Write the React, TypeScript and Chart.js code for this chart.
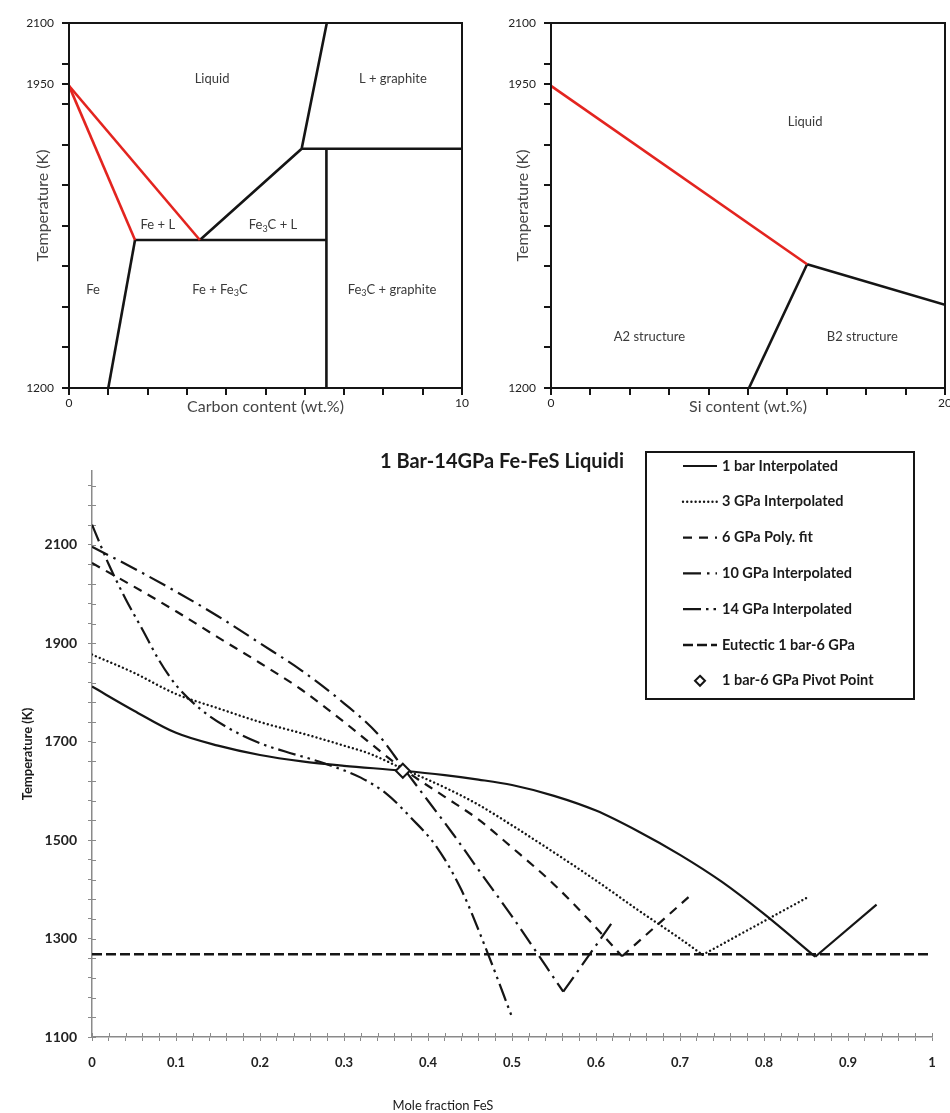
import React, { useEffect, useRef } from 'react';
import { Chart, registerables } from 'chart.js';

Chart.register(...registerables);

const W = 950;
const H = 1113;
const FONT = 'Lato, "Open Sans", "DejaVu Sans", sans-serif';
const RED = '#e3241f';
const INK = '#151515';

type Pt = { x: number; y: number };
const pts = (xs: number[], ys: number[]): Pt[] => xs.map((x, i) => ({ x, y: ys[i] }));

// ---------------- Panel A : Fe–C ----------------
const feC_tempTicks = [1200, 1300, 1400, 1500, 1600, 1700, 1800, 1900, 1950, 2000, 2100];
const feC_tempLabelled = [1200, 1950, 2100];
const feC_carbonTicks = [0, 1, 2, 3, 4, 5, 6, 7, 8, 9, 10];
const feC_carbonLabelled = [0, 10];

const feC_liquidusFeX = [0, 3.33];
const feC_liquidusFeT = [1945, 1565];
const feC_solidusFeX = [0, 1.68];
const feC_solidusFeT = [1945, 1565];
const feC_eutecticX = [1.68, 6.55];
const feC_eutecticT = [1565, 1565];
const feC_fe3cLiquidusX = [3.33, 5.92, 6.56];
const feC_fe3cLiquidusT = [1565, 1790, 2100];
const feC_graphiteX = [5.92, 10];
const feC_graphiteT = [1790, 1790];
const feC_fe3cLimitX = [6.55, 6.55];
const feC_fe3cLimitT = [1790, 1200];
const feC_solvusX = [1.0, 1.68];
const feC_solvusT = [1200, 1565];

const feC_regionNames = ['Liquid', 'L + graphite', 'Fe + L', 'Fe_3C + L', 'Fe', 'Fe + Fe_3C', 'Fe_3C + graphite'];
const feC_regionX = [3.64, 8.24, 2.26, 5.19, 0.61, 3.84, 8.22];
const feC_regionT = [1962, 1962, 1602, 1602, 1442, 1442, 1442];

// ---------------- Panel B : Fe–Si ----------------
const feSi_tempTicks = feC_tempTicks;
const feSi_tempLabelled = feC_tempLabelled;
const feSi_siTicks = [0, 2, 4, 6, 8, 10, 12, 14, 16, 18, 20];
const feSi_siLabelled = [0, 20];

const feSi_liquidusX = [0, 13];
const feSi_liquidusT = [1945, 1505];
const feSi_b2LiquidusX = [13, 20];
const feSi_b2LiquidusT = [1505, 1405];
const feSi_a2b2X = [13, 10.05];
const feSi_a2b2T = [1505, 1200];

const feSi_regionNames = ['Liquid', 'A2 structure', 'B2 structure'];
const feSi_regionX = [12.9, 5.0, 15.8];
const feSi_regionT = [1856, 1326, 1326];

// ---------------- Panel C : Fe–FeS liquidi ----------------
const fes_fracLabelled = [0, 0.1, 0.2, 0.3, 0.4, 0.5, 0.6, 0.7, 0.8, 0.9, 1];
const fes_fracMinorStep = 0.02;
const fes_tempLabelled = [1100, 1300, 1500, 1700, 1900, 2100];
const fes_tempMinorStep = 40;
const fes_tempMin = 1100;
const fes_tempMax = 2250;

const oneBarX = [0, 0.05, 0.1, 0.15, 0.2, 0.25, 0.3, 0.37, 0.42, 0.46, 0.5, 0.55, 0.6, 0.65, 0.7, 0.75, 0.8, 0.861];
const oneBarT = [1812, 1763, 1718, 1692, 1673, 1660, 1651, 1641, 1632, 1623, 1612, 1590, 1560, 1518, 1470, 1415, 1350, 1263];
const oneBarRiseX = [0.861, 0.934];
const oneBarRiseT = [1263, 1369];

const gpa3X = [0, 0.05, 0.1, 0.15, 0.2, 0.25, 0.3, 0.33, 0.37, 0.42, 0.46, 0.5, 0.55, 0.6, 0.65, 0.7, 0.727];
const gpa3T = [1877, 1840, 1797, 1768, 1740, 1717, 1692, 1676, 1645, 1607, 1572, 1530, 1475, 1418, 1358, 1300, 1267];
const gpa3RiseX = [0.727, 0.851];
const gpa3RiseT = [1267, 1383];

const gpa6X = [0, 0.05, 0.1, 0.15, 0.2, 0.25, 0.3, 0.37, 0.42, 0.46, 0.5, 0.55, 0.593, 0.631];
const gpa6T = [2063, 2015, 1965, 1912, 1860, 1805, 1740, 1645, 1588, 1542, 1485, 1410, 1335, 1264];
const gpa6RiseX = [0.631, 0.712];
const gpa6RiseT = [1264, 1387];

const gpa10X = [0, 0.05, 0.1, 0.15, 0.2, 0.25, 0.3, 0.34, 0.37, 0.4, 0.43, 0.46, 0.5, 0.561];
const gpa10T = [2096, 2052, 2005, 1955, 1900, 1844, 1778, 1716, 1648, 1580, 1512, 1440, 1345, 1192];
const gpa10RiseX = [0.561, 0.619];
const gpa10RiseT = [1192, 1332];

const gpa14X = [0, 0.01, 0.02, 0.04, 0.06, 0.08, 0.1, 0.13, 0.16, 0.2, 0.23, 0.26, 0.29, 0.32, 0.35, 0.38, 0.41, 0.44, 0.47, 0.501];
const gpa14T = [2141, 2100, 2060, 1990, 1928, 1865, 1815, 1765, 1730, 1697, 1680, 1665, 1648, 1627, 1595, 1545, 1487, 1398, 1275, 1136];

const eutecticX = [0, 1];
const eutecticT = [1268, 1268];
const pivotX = [0.37];
const pivotT = [1641];

const legendNames = [
  '1 bar Interpolated',
  '3 GPa Interpolated',
  '6 GPa Poly. fit',
  '10 GPa Interpolated',
  '14 GPa Interpolated',
  'Eutectic 1 bar-6 GPa',
  '1 bar-6 GPa Pivot Point',
];

// line styles
type LS = { dash: number[]; width: number; cap: CanvasLineCap };
const S1: LS = { dash: [], width: 2.2, cap: 'butt' };
const S3: LS = { dash: [0.01, 4.2], width: 2.4, cap: 'round' };
const S6: LS = { dash: [9, 7], width: 2.2, cap: 'butt' };
const S10: LS = { dash: [18, 6, 2.5, 6], width: 2.2, cap: 'butt' };
const S14: LS = { dash: [18, 5, 2.5, 5, 2.5, 5], width: 2.2, cap: 'butt' };
const SE: LS = { dash: [10, 4], width: 2.6, cap: 'butt' };

function drawRich(ctx: CanvasRenderingContext2D, text: string, x: number, y: number, size: number) {
  const parts = text
    .split(/(_\d)/)
    .filter(Boolean)
    .map((p) => (p.startsWith('_') ? { t: p.slice(1), sub: true } : { t: p, sub: false }));
  const mainF = `${size}px ${FONT}`;
  const subF = `${Math.round(size * 0.68)}px ${FONT}`;
  let total = 0;
  const widths = parts.map((p) => {
    ctx.font = p.sub ? subF : mainF;
    const w = ctx.measureText(p.t).width;
    total += w;
    return w;
  });
  let cx = x - total / 2;
  ctx.textAlign = 'left';
  ctx.textBaseline = 'middle';
  parts.forEach((p, i) => {
    ctx.font = p.sub ? subF : mainF;
    ctx.fillText(p.t, cx, p.sub ? y + size * 0.28 : y);
    cx += widths[i];
  });
}

type PhaseSpec = {
  lines: { data: Pt[]; color: string }[];
  xMin: number;
  xMax: number;
  xTicks: number[];
  xLabelled: number[];
  yTicks: number[];
  yLabelled: number[];
  padLeft: number;
  padRight: number;
  yWidth: number;
  regions: { names: string[]; xs: number[]; ts: number[] };
  xTitle: string;
  yTitleX: number;
};

function phaseConfig(s: PhaseSpec): any {
  return {
    type: 'scatter',
    data: {
      datasets: s.lines.map((l) => ({
        data: l.data,
        showLine: true,
        borderColor: l.color,
        borderWidth: 2.6,
        pointRadius: 0,
        tension: 0,
        fill: false,
      })),
    },
    options: {
      responsive: false,
      animation: false,
      devicePixelRatio: 1,
      events: [],
      layout: { padding: { left: s.padLeft, right: s.padRight, top: 23, bottom: H - 388 - 30 } },
      plugins: { legend: { display: false }, tooltip: { enabled: false } },
      scales: {
        x: {
          type: 'linear',
          min: s.xMin,
          max: s.xMax,
          afterBuildTicks: (sc: any) => {
            sc.ticks = s.xTicks.map((v) => ({ value: v }));
          },
          afterFit: (sc: any) => {
            sc.height = 30;
            sc.paddingLeft = 0;
            sc.paddingRight = 0;
          },
          ticks: {
            autoSkip: false,
            maxRotation: 0,
            padding: 1,
            color: '#222',
            font: { size: 12, family: FONT },
            callback: (v: number) => (s.xLabelled.includes(v) ? String(v) : ''),
          },
          grid: { display: true, drawOnChartArea: false, drawTicks: true, tickLength: 7, tickWidth: 2, tickColor: INK, lineWidth: 2 },
          border: { display: true, color: INK, width: 2 },
        },
        y: {
          type: 'linear',
          min: 1200,
          max: 2100,
          afterBuildTicks: (sc: any) => {
            sc.ticks = s.yTicks.slice().sort((a, b) => a - b).map((v) => ({ value: v }));
          },
          afterFit: (sc: any) => {
            sc.width = s.yWidth;
          },
          ticks: {
            autoSkip: false,
            padding: 8,
            color: '#222',
            font: { size: 12, family: FONT },
            callback: (v: number) => (s.yLabelled.includes(v) ? String(v) : ''),
          },
          grid: { display: true, drawOnChartArea: false, drawTicks: true, tickLength: 7, tickWidth: 2, tickColor: INK, lineWidth: 2 },
          border: { display: true, color: INK, width: 2 },
        },
      },
    },
    plugins: [
      {
        id: 'phaseOverlay',
        afterDraw(chart: any) {
          const { ctx, chartArea: a, scales } = chart;
          ctx.save();
          ctx.strokeStyle = INK;
          ctx.lineWidth = 2;
          ctx.strokeRect(a.left, a.top, a.right - a.left, a.bottom - a.top);
          ctx.fillStyle = '#3a3a3a';
          s.regions.names.forEach((n, i) => {
            drawRich(ctx, n, scales.x.getPixelForValue(s.regions.xs[i]), scales.y.getPixelForValue(s.regions.ts[i]), 13);
          });
          ctx.fillStyle = '#444';
          ctx.font = `16px ${FONT}`;
          ctx.textAlign = 'center';
          ctx.textBaseline = 'middle';
          ctx.fillText(s.xTitle, (a.left + a.right) / 2, 407);
          ctx.translate(s.yTitleX, (a.top + a.bottom) / 2);
          ctx.rotate(-Math.PI / 2);
          ctx.fillText('Temperature (K)', 0, 0);
          ctx.restore();
        },
      },
    ],
  };
}

function lineDs(data: Pt[], st: LS, smooth: boolean): any {
  return {
    data,
    showLine: true,
    borderColor: INK,
    borderWidth: st.width,
    borderDash: st.dash,
    borderCapStyle: st.cap,
    pointRadius: 0,
    tension: smooth ? 0.4 : 0,
    cubicInterpolationMode: smooth ? 'monotone' : 'default',
    fill: false,
  };
}

function fesConfig(): any {
  const xTicks: number[] = [];
  for (let k = 0; k <= Math.round(1 / fes_fracMinorStep); k++) xTicks.push(+(k * fes_fracMinorStep).toFixed(4));
  const yTicks: number[] = [];
  for (let v = fes_tempMin; v <= fes_tempMax; v += fes_tempMinorStep) yTicks.push(v);
  const isLab = (arr: number[], v: number) => arr.some((a) => Math.abs(a - v) < 1e-6);
  const legendStyles: (LS | null)[] = [S1, S3, S6, S10, S14, SE, null];

  return {
    type: 'scatter',
    data: {
      datasets: [
        {
          data: pts(pivotX, pivotT),
          pointStyle: 'rectRot',
          pointRadius: 7,
          pointBorderWidth: 2,
          pointBackgroundColor: '#fff',
          pointBorderColor: INK,
          showLine: false,
          order: -1,
        },
        lineDs(pts(oneBarX, oneBarT), S1, true),
        lineDs(pts(oneBarRiseX, oneBarRiseT), S1, false),
        lineDs(pts(gpa3X, gpa3T), S3, true),
        lineDs(pts(gpa3RiseX, gpa3RiseT), S3, false),
        lineDs(pts(gpa6X, gpa6T), S6, true),
        lineDs(pts(gpa6RiseX, gpa6RiseT), S6, false),
        lineDs(pts(gpa10X, gpa10T), S10, true),
        lineDs(pts(gpa10RiseX, gpa10RiseT), S10, false),
        lineDs(pts(gpa14X, gpa14T), S14, true),
        lineDs(pts(eutecticX, eutecticT), SE, false),
      ],
    },
    options: {
      responsive: false,
      animation: false,
      devicePixelRatio: 1,
      events: [],
      layout: { padding: { left: 0, right: W - 932, top: 471, bottom: H - 1037 - 40 } },
      plugins: { legend: { display: false }, tooltip: { enabled: false } },
      scales: {
        x: {
          type: 'linear',
          min: 0,
          max: 1,
          afterBuildTicks: (sc: any) => {
            sc.ticks = xTicks.map((v) => ({ value: v }));
          },
          afterFit: (sc: any) => {
            sc.height = 40;
            sc.paddingLeft = 0;
            sc.paddingRight = 0;
          },
          ticks: {
            autoSkip: false,
            maxRotation: 0,
            padding: 14,
            color: '#222',
            font: { size: 13, weight: 'bold', family: FONT },
            callback: (v: number) => (isLab(fes_fracLabelled, v) ? String(Math.round(v * 10) / 10) : ''),
          },
          grid: { display: true, drawOnChartArea: false, drawTicks: true, tickLength: 4, tickWidth: 1, tickColor: '#8a8a8a', lineWidth: 1 },
          border: { display: true, color: '#8a8a8a', width: 1.5 },
        },
        y: {
          type: 'linear',
          min: fes_tempMin,
          max: fes_tempMax,
          afterBuildTicks: (sc: any) => {
            sc.ticks = yTicks.map((v) => ({ value: v }));
          },
          afterFit: (sc: any) => {
            sc.width = 92;
          },
          ticks: {
            autoSkip: false,
            padding: 11,
            color: '#222',
            font: { size: 14, weight: 'bold', family: FONT },
            callback: (v: number) => (isLab(fes_tempLabelled, v) ? String(v) : ''),
          },
          grid: { display: true, drawOnChartArea: false, drawTicks: true, tickLength: 4, tickWidth: 1, tickColor: '#8a8a8a', lineWidth: 1 },
          border: { display: true, color: '#8a8a8a', width: 1.5 },
        },
      },
    },
    plugins: [
      {
        id: 'fesOverlay',
        beforeDatasetsDraw(chart: any) {
          const { ctx, chartArea: a, scales } = chart;
          ctx.save();
          ctx.strokeStyle = '#8a8a8a';
          ctx.lineWidth = 1;
          scales.x.ticks.forEach((t: any) => {
            const px = Math.round(scales.x.getPixelForValue(t.value)) + 0.5;
            ctx.beginPath();
            ctx.moveTo(px, a.bottom - 4);
            ctx.lineTo(px, a.bottom);
            ctx.stroke();
          });
          scales.y.ticks.forEach((t: any) => {
            const py = Math.round(scales.y.getPixelForValue(t.value)) + 0.5;
            ctx.beginPath();
            ctx.moveTo(a.left, py);
            ctx.lineTo(a.left + 4, py);
            ctx.stroke();
          });
          ctx.restore();
        },
        afterDraw(chart: any) {
          const { ctx, chartArea: a } = chart;
          ctx.save();
          // title
          ctx.fillStyle = '#1a1a1a';
          ctx.font = `bold 20px ${FONT}`;
          ctx.textAlign = 'center';
          ctx.textBaseline = 'middle';
          ctx.fillText('1 Bar-14GPa Fe-FeS Liquidi', 502, 462);
          // axis titles
          ctx.font = `13px ${FONT}`;
          ctx.fillText('Mole fraction FeS', 443, 1106);
          ctx.save();
          ctx.font = `bold 13px ${FONT}`;
          ctx.translate(28, (a.top + a.bottom) / 2);
          ctx.rotate(-Math.PI / 2);
          ctx.fillText('Temperature (K)', 0, 0);
          ctx.restore();
          // legend
          const bx = 646, by = 452, bw = 268, bh = 247;
          ctx.fillStyle = '#fff';
          ctx.fillRect(bx, by, bw, bh);
          ctx.strokeStyle = INK;
          ctx.lineWidth = 2;
          ctx.strokeRect(bx, by, bw, bh);
          legendNames.forEach((name, i) => {
            const y = 466 + i * 35.8;
            const st = legendStyles[i];
            if (st) {
              ctx.save();
              ctx.setLineDash(st.dash);
              ctx.lineCap = st.cap;
              ctx.lineWidth = st.width;
              ctx.strokeStyle = INK;
              ctx.beginPath();
              ctx.moveTo(683, y);
              ctx.lineTo(717, y);
              ctx.stroke();
              ctx.restore();
            } else {
              ctx.save();
              ctx.fillStyle = '#fff';
              ctx.strokeStyle = INK;
              ctx.lineWidth = 2;
              ctx.beginPath();
              ctx.moveTo(700, y - 5);
              ctx.lineTo(705, y);
              ctx.lineTo(700, y + 5);
              ctx.lineTo(695, y);
              ctx.closePath();
              ctx.fill();
              ctx.stroke();
              ctx.restore();
            }
            ctx.fillStyle = '#1a1a1a';
            ctx.font = `bold 14.5px ${FONT}`;
            ctx.textAlign = 'left';
            ctx.textBaseline = 'middle';
            ctx.fillText(name, 722, y);
          });
          ctx.restore();
        },
      },
    ],
  };
}

export default function App() {
  const aRef = useRef<HTMLCanvasElement>(null);
  const bRef = useRef<HTMLCanvasElement>(null);
  const cRef = useRef<HTMLCanvasElement>(null);

  useEffect(() => {
    Chart.defaults.font.family = FONT;
    const feC = phaseConfig({
      lines: [
        { data: pts(feC_liquidusFeX, feC_liquidusFeT), color: RED },
        { data: pts(feC_solidusFeX, feC_solidusFeT), color: RED },
        { data: pts(feC_eutecticX, feC_eutecticT), color: INK },
        { data: pts(feC_fe3cLiquidusX, feC_fe3cLiquidusT), color: INK },
        { data: pts(feC_graphiteX, feC_graphiteT), color: INK },
        { data: pts(feC_fe3cLimitX, feC_fe3cLimitT), color: INK },
        { data: pts(feC_solvusX, feC_solvusT), color: INK },
      ],
      xMin: 0,
      xMax: 10,
      xTicks: feC_carbonTicks,
      xLabelled: feC_carbonLabelled,
      yTicks: feC_tempTicks,
      yLabelled: feC_tempLabelled,
      padLeft: 0,
      padRight: W - 462,
      yWidth: 69,
      regions: { names: feC_regionNames, xs: feC_regionX, ts: feC_regionT },
      xTitle: 'Carbon content (wt.%)',
      yTitleX: 43,
    });
    const feSi = phaseConfig({
      lines: [
        { data: pts(feSi_liquidusX, feSi_liquidusT), color: RED },
        { data: pts(feSi_b2LiquidusX, feSi_b2LiquidusT), color: INK },
        { data: pts(feSi_a2b2X, feSi_a2b2T), color: INK },
      ],
      xMin: 0,
      xMax: 20,
      xTicks: feSi_siTicks,
      xLabelled: feSi_siLabelled,
      yTicks: feSi_tempTicks,
      yLabelled: feSi_tempLabelled,
      padLeft: 480,
      padRight: W - 945,
      yWidth: 551 - 480,
      regions: { names: feSi_regionNames, xs: feSi_regionX, ts: feSi_regionT },
      xTitle: 'Si content (wt.%)',
      yTitleX: 523,
    });
    const charts = [
      new Chart(aRef.current as HTMLCanvasElement, feC),
      new Chart(bRef.current as HTMLCanvasElement, feSi),
      new Chart(cRef.current as HTMLCanvasElement, fesConfig()),
    ];
    return () => charts.forEach((c) => c.destroy());
  }, []);

  const cs: React.CSSProperties = { position: 'absolute', left: 0, top: 0, width: W, height: H };
  return (
    <div style={{ position: 'absolute', left: 0, top: 0, width: W, height: H, background: '#fff', overflow: 'hidden' }}>
      <canvas ref={aRef} width={W} height={H} style={cs} />
      <canvas ref={bRef} width={W} height={H} style={cs} />
      <canvas ref={cRef} width={W} height={H} style={cs} />
    </div>
  );
}
